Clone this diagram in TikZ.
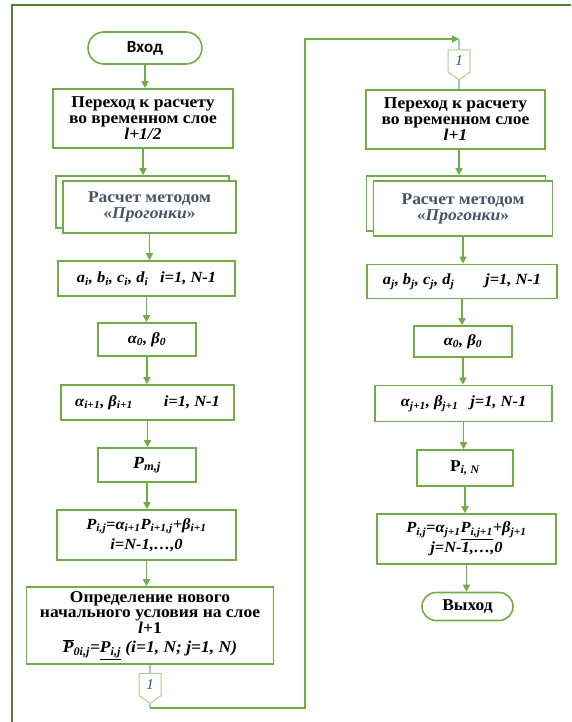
\documentclass[tikz,border=0pt]{standalone}
\usepackage{fontspec}
\setmainfont{Liberation Serif}[FakeStretch=1.06]
\newfontfamily\calib{Carlito}
\usetikzlibrary{shapes.misc,shapes.symbols,shadows,arrows.meta}
\definecolor{framegreen}{RGB}{84,130,53}
\definecolor{boxgreen}{RGB}{112,173,71}
\definecolor{palegreen}{RGB}{169,209,142}
\definecolor{lineblue}{RGB}{157,195,230}
\definecolor{slate}{RGB}{68,84,106}
\newcommand\sub[1]{\textsubscript{#1}}

\begin{document}
\begin{tikzpicture}[x=1pt,y=-1pt]
    \tikzset{box/.style = {draw=boxgreen, line width=1.6pt, fill=white,
        inner sep=0pt, align=center,
        font=\bfseries\fontsize{16.5}{16}\selectfont},
      mathbox/.style = {box, font=\bfseries\itshape\fontsize{15.5}{20}\selectfont},
      stack/.style = {box, text=slate,
        copy shadow={shadow xshift=-7pt, shadow yshift=5pt}},
      term/.style = {box, rounded rectangle},
      pageref/.style = {draw=palegreen, line width=1pt, fill=white,
        shape=signal, signal to=south, signal pointer angle=110,
        minimum width=22pt, minimum height=25pt, inner sep=0pt,
        text=slate, font=\itshape\fontsize{15}{15}\selectfont},
      arr/.style = {draw=boxgreen, line width=1.6pt,
        -{Triangle[length=7pt,width=7pt]}},
      link/.style = {draw=lineblue, line width=1.2pt}}

    \useasboundingbox (0,0) rectangle (571,722);

    % Outer frame
    \draw[framegreen, line width=2pt] (12,722) -- (12,5) -- (571,5);

    % Left column: layer l+1/2
    \node[term, minimum width=114pt, minimum height=32pt,
      font=\calib\bfseries\fontsize{17}{17}\selectfont] (in) at (145,48) {Вход};
    \node[box, minimum width=180pt, minimum height=59pt] (l1) at (143,118.5)
      {Переход к расчету\\во временном слое\\\textit{l+1/2}};
    \node[stack, minimum width=173pt, minimum height=52pt] (l2) at (149.5,207)
      {Расчет методом\\«\textit{Прогонки}»};
    \node[mathbox, minimum width=177pt, minimum height=35pt] (l3) at (146.5,278.5)
      {a\sub{i}, b\sub{i}, c\sub{i}, d\sub{i}\enspace\ i=1, N-1};
    \node[mathbox, minimum width=98pt, minimum height=33pt] (l4) at (147,339.5)
      {α\sub{0}, β\sub{0}};
    \node[mathbox, minimum width=173pt, minimum height=35pt] (l5) at (147.5,402.5)
      {α\sub{i+1}, β\sub{i+1}\qquad i=1, N-1};
    \node[mathbox, minimum width=98pt, minimum height=34pt,
      font=\bfseries\itshape\fontsize{17}{17}\selectfont] (l6) at (147,465)
      {P\sub{m,j}};
    \node[mathbox, minimum width=179pt, minimum height=50pt] (l7) at (146.5,535)
      {P\sub{i,j}=α\sub{i+1}P\sub{i+1,j}+β\sub{i+1}\\i=N-1,…,0};
    \node[box, minimum width=247pt, minimum height=77pt,
      font=\bfseries\fontsize{16.5}{15}\selectfont] (l8) at (150,625.5)
      {Определение нового\\начального условия на слое\\\textit{l}+1\\[4pt]
       \textit{$\overline{\mbox{P}}$\sub{0i,j}=\underline{P\sub{i,j}} (i=1, N; j=1, N)}};
    \node[pageref] (c1) at (150,684.5) {1};

    % Right column: layer l+1
    \node[pageref] (c2) at (459,61) {1};
    \node[box, minimum width=179pt, minimum height=59pt] (r1) at (455.5,119.5)
      {Переход к расчету\\во временном слое\\\textit{l+1}};
    \node[stack, minimum width=179pt, minimum height=55pt] (r2) at (463,208.5)
      {Расчет методом\\«\textit{Прогонки}»};
    \node[mathbox, minimum width=190pt, minimum height=34pt] (r3) at (462,281.5)
      {a\sub{j}, b\sub{j}, c\sub{j}, d\sub{j}\qquad j=1, N-1};
    \node[mathbox, minimum width=98pt, minimum height=31pt] (r4) at (463,341.5)
      {α\sub{0}, β\sub{0}};
    \node[mathbox, minimum width=177pt, minimum height=36pt] (r5) at (463.5,403.5)
      {α\sub{j+1}, β\sub{j+1}\enspace\ j=1, N-1};
    \node[box, minimum width=96pt, minimum height=36pt] (r6) at (465,468)
      {P\sub{\textit{i, N}}};
    \node[mathbox, minimum width=179pt, minimum height=50pt] (r7) at (466.5,539)
      {P\sub{i,j}=α\sub{j+1}\underline{P\sub{i,j+1}}+β\sub{j+1}\\j=N-1,…,0};
    \node[term, minimum width=91pt, minimum height=28pt] (out) at (467.5,606.5)
      {Выход};

    % Arrows of the left column
    \draw[arr] (in.south) -- (in.south |- l1.north);
    \draw[arr] (l1.south) -- ([yshift=5pt]l1.south |- l2.north);
    \draw[arr] (l2.south) -- (l2.south |- l3.north);
    \draw[arr] (l3.south) -- (l3.south |- l4.north);
    \draw[arr] (l4.south) -- (l4.south |- l5.north);
    \draw[arr] (l5.south) -- (l5.south |- l6.north);
    \draw[arr] (l6.south) -- (l6.south |- l7.north);
    \draw[arr] (l7.south) -- (l7.south |- l8.north);

    % Jump over to the right column
    \coordinate (k1) at (150,708);
    \coordinate (k2) at (305,39);
    \coordinate (k3) at (459,39);
    \draw[link] (c1 |- l8.south) -- (c1.north);
    \draw[link] (c1.south) -- (k1);
    \draw[arr] (k1) -| (k2) -- (k3);
    \draw[link] (k3) -- (c2.north);
    \draw[link] (c2.south) -- (c2 |- r1.north);

    % Arrows of the right column
    \draw[arr] (c2 |- r1.south) -- ([yshift=5pt]c2 |- r2.north);
    \draw[arr] (r2.south) -- (r2.south |- r3.north);
    \draw[arr] (r3.south) -- (r3.south |- r4.north);
    \draw[arr] (r4.south) -- (r4.south |- r5.north);
    \draw[arr] (r5.south) -- (r5.south |- r6.north);
    \draw[arr] (r6.south) -- (r6.south |- r7.north);
    \draw[arr] (r7.south) -- (r7.south |- out.north);
\end{tikzpicture}
\end{document}
